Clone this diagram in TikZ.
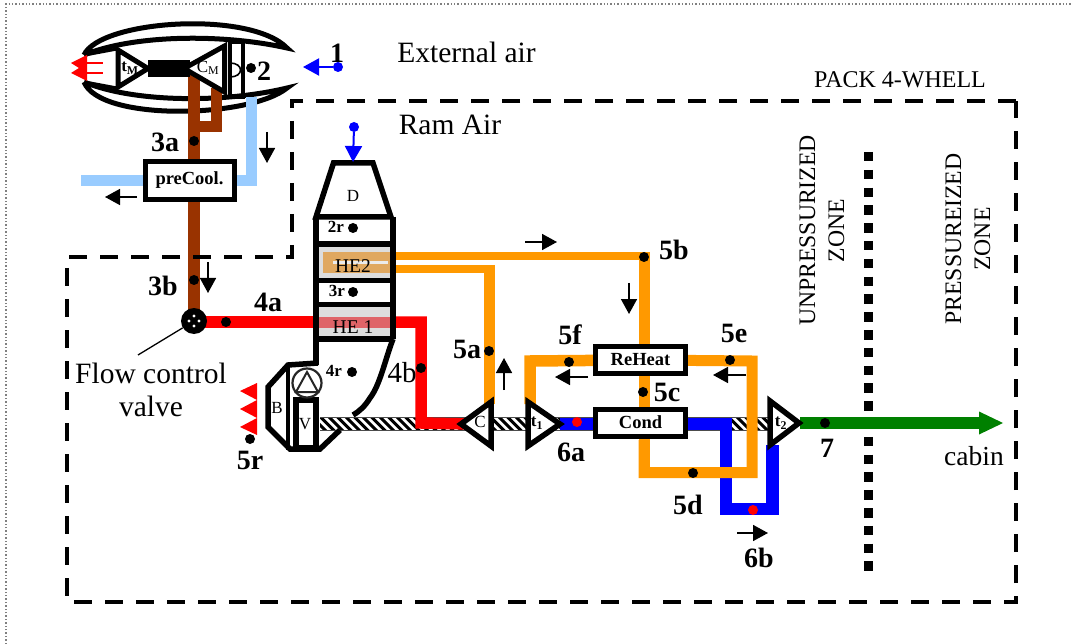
\documentclass[tikz,border=0pt]{standalone}
\usepackage{fontspec}
\setmainfont{Liberation Serif}
\usetikzlibrary{arrows.meta}

\definecolor{brownpipe}{HTML}{993300}
\definecolor{bluepipe}{HTML}{99CCFF}
\definecolor{orangepipe}{HTML}{FF9900}
\definecolor{hegray}{HTML}{DDDDDD}
\definecolor{hetan}{HTML}{E0A860}
\definecolor{hered}{HTML}{DF6468}
\definecolor{greenpipe}{HTML}{008000}

\tikzset{
    pipe/.style={line width=11.5pt},
    wall/.style={line width=5.5pt,miter limit=20},
    boxnode/.style={draw,line width=5pt,fill=white,minimum width=90pt,minimum height=27pt,inner sep=0pt,font=\fontsize{18.5}{18.5}\selectfont\bfseries},
    dotnode/.style={circle,fill=black,minimum size=10pt,inner sep=0pt},
    reddot/.style={circle,fill=red,minimum size=10pt,inner sep=0pt},
    stagelabel/.style={font=\fontsize{28}{28}\selectfont\bfseries,inner sep=0pt},
    bigtext/.style={font=\fontsize{29.5}{29.5}\selectfont,inner sep=0pt},
    zonetext/.style={font=\fontsize{23.7}{29}\selectfont,inner sep=0pt,align=center,rotate=90},
    smalltext/.style={font=\fontsize{17}{17}\selectfont,inner sep=0pt},
    rlabel/.style={font=\fontsize{17}{17}\selectfont\bfseries,inner sep=0pt},
    flowarrow/.style={line width=1.6pt,-{Triangle[length=15pt,width=16pt]}},
    blowarrow/.style={blue,line width=2pt,-{Triangle[length=16pt,width=17pt]}}
}

\begin{document}
\begin{tikzpicture}[x=1pt,y=-1pt]
    \useasboundingbox (0,0) rectangle (1073,644);
    \draw[gray,line width=1.4pt,dotted] (6,644) -- (6,4) -- (1073,4);

    \coordinate (valve) at (194,321);
    \coordinate (turbA) at (560,424);
    \coordinate (turbB) at (800,423);
    \coordinate (compC) at (470,424);
    \coordinate (condC) at (640.5,422.5);
    \coordinate (reheatC) at (640.5,360);
    \coordinate (precoolC) at (189.5,180.5);

    \draw[line width=5pt] (84,55) .. controls (100,20) and (250,10) .. (287,48) .. controls (225,34) and (135,34) .. (84,55);
    \draw[line width=5pt] (84,82) .. controls (100,122) and (250,118) .. (287,88) .. controls (225,103) and (135,103) .. (84,82);
    \draw[line width=3pt] (85,55) -- (117,49) (85,82) -- (117,88);

    \draw[brownpipe,line width=12pt] (194,70) -- (valve);
    \draw[brownpipe,line width=11pt,line join=miter] (216,88) -- (216,127) -- (194,127);
    \draw[bluepipe,line width=11pt] (251,97) -- (251,180.5) -- (81,180.5);

    \fill[black] (148,60) rectangle (190,77);
    \draw[line width=5pt,fill=white,miter limit=20] (118,50) -- (118,87) -- (148,68.5) -- cycle;
    \draw[line width=5pt,fill=white,miter limit=20] (224.5,46) -- (224.5,92) -- (184,68.5) -- cycle;
    \draw[line width=4pt] (229.5,42) -- (229.5,97) -- (243,97) -- (243,42) -- cycle;
    \draw[line width=1.6pt] (230,63) .. controls (244,63) and (244,77) .. (230,77);
    \fill[red] (87,55) -- (71,63) -- (79,68) -- (71,73) -- (87,81) -- cycle;
    \draw[red,line width=1.5pt] (87,63) -- (103,63) (87,73) -- (103,73);

    \draw[line width=4pt,dash pattern=on 18pt off 13pt] (1016,101) -- (292,101) -- (292,257) -- (67,257) -- (67,602) -- (1016,602) -- cycle;
    \draw[line width=9pt,dash pattern=on 9.5pt off 8.3pt] (868.5,152) -- (868.5,572);

    \fill[hegray] (319,247) rectangle (390,278);
    \fill[hegray] (319,307) rectangle (390,337);
    \fill[hetan] (323,252) rectangle (393,273);
    \fill[hegray!60!white] (333,261) rectangle (388,264);
    \fill[hered] (316,317) rectangle (393,328);

    \draw[orangepipe,line width=8pt] (393,256.5) -- (644,256.5);
    \draw[orangepipe,line width=11pt] (644,252.5) -- (644,472.5);
    \draw[orangepipe,line width=8pt] (393,269) -- (494.5,269);

    \begin{scope}
        \clip (320,417.5) rectangle (770,430.5);
        \foreach \hx in {312,320.5,...,775}
        {
            \draw[line width=3pt] (\hx,417) -- (\hx+14,431);
        }
    \end{scope}
    \draw[line width=0.9pt,black!70] (320,417) -- (770,417) (320,430.5) -- (770,430.5);

    \draw[red,pipe,line join=miter] (valve) ++(0,1) -- (316,322);
    \draw[red,pipe,line join=miter] (393,322) -- (421,322) -- (421,423) -- (compC);
    \draw[blue,line width=12.5pt] (turbA) -- (condC |- turbA);
    \draw[blue,line width=12.5pt] (condC |- turbA) -- (726,424) -- (726,509) -- (772.5,509) -- (772.5,445);
    \draw[orangepipe,line width=11pt] (489,265) -- (489,404);
    \draw[orangepipe,line width=11.5pt,line join=miter] (reheatC) -- (530,361) -- (530,404);
    \draw[orangepipe,line width=11pt,line join=miter] (644,440) -- (644,472.5) -- (752,472.5) -- (752,361) -- (reheatC);
    \draw[greenpipe,line width=12pt] (turbB) -- (985,423);
    \fill[greenpipe] (979,411.5) -- (1003,423) -- (979,434.5) -- cycle;

    \draw[wall,line join=miter] (333.5,163) -- (373,163) -- (391,217) -- (316,217) -- cycle;
    \draw[wall] (316,217) -- (316,365) (393,217) -- (393,339);
    \foreach \yy in {244,280.5,304.5,339}
    {
        \draw[wall] (316,\yy) -- (393,\yy);
    }
    \draw[wall,line join=round] (393,339) .. controls (385,360) and (380,385) .. (370,398) .. controls (365,406) and (360,411) .. (353,415);
    \draw[wall,line join=miter] (318,363) -- (288,365) -- (268,387) -- (268,427) -- (290,449) -- (320,449) -- (340,430);
    \draw[line width=4pt] (288,365) -- (288,450);
    \draw[wall,fill=white] (296,400) rectangle (316,448);
    \draw[line width=2.2pt,black!85,fill=white] (307,383) circle (14.5pt);
    \draw[line width=2pt,black!85] (307,372) -- (318,392) -- (296,392) -- cycle;
    \fill[red] (257,383) -- (240,391) -- (257,400) -- (240,409) -- (257,418) -- (240,427) -- (257,435) -- cycle;

    \draw[wall,fill=white,miter limit=20] (491,402) -- (491,446) -- (461,424) -- cycle;
    \draw[wall,fill=white,miter limit=20] (528,402) -- (528,446) -- (560,424) -- cycle;
    \draw[wall,fill=white,miter limit=20] (770,401) -- (770,445) -- (799,423) -- cycle;

    \fill[black] (valve) circle (13pt);
    \foreach \ang in {0,90,180,270}
    {
        \fill[white] (valve) ++(\ang:5) circle (1.6pt);
    }
    \node[circle,inner sep=0pt,minimum size=26pt] (valvenode) at (valve) {};
    \coordinate (valveleader) at (138,355);
    \draw[line width=1.3pt] (valvenode) -- (valveleader);

    \node[boxnode,minimum width=89pt,minimum height=38pt] (preCool) at (precoolC) {preCool.};
    \node[boxnode] (ReHeat) at (reheatC) {ReHeat};
    \node[boxnode] (Cond) at (condC) {Cond};

    \foreach \dotname/\dotx/\doty in {dtwo/251/68,dthreea/194/141,dthreeb/194/280,dfoura/226/322,dfourb/421/368,dfivea/489/351,dfiveb/644/257,dfivef/569/362,dfivee/730/360,dfivec/643/392,dfived/693/473,dfiver/250/439,dseven/825/423,dtwor/353/228,dthreer/353/292,dfourr/352/372}
    {
        \node[dotnode] (\dotname) at (\dotx,\doty) {};
    }
    \node[reddot] (dsixa) at (577,422) {};
    \node[reddot] (dsixb) at (753,510) {};

    \node[circle,fill=blue,minimum size=10pt,inner sep=0pt] (dairone) at (338,67) {};
    \coordinate (aironeend) at (303,67);
    \draw[blowarrow] (dairone) -- (aironeend);
    \node[circle,fill=blue,minimum size=10pt,inner sep=0pt] (dramair) at (354,127) {};
    \coordinate (ramend) at (353,162);
    \draw[blowarrow] (dramair) -- (ramend);

    \foreach \ax/\ay/\bx/\by in {267/132/267/163,137/197/105/197,208/262/208/293,525/242/557/242,629/283/629/314,504/390/504/358,588/377/555/377,746/375/713/375,737/533/768/533}
    {
        \draw[flowarrow] (\ax,\ay) -- (\bx,\by);
    }

    \foreach \txt/\tx/\ty in {1/337/53,2/264/71,3a/165/142,3b/163/286,4a/268/302,5a/467/349,5b/674/250,5c/667/392,5d/688/505,5e/734/333,5f/570/335,5r/250/460,6a/571/452,6b/759/558,7/827/448}
    {
        \node[stagelabel] (lab\txt) at (\tx,\ty) {\txt};
    }
    \node[stagelabel,font=\fontsize{29}{29}\selectfont] (lab4b) at (402,373) {4b};

    \node[bigtext] (extair) at (466.5,52) {External air};
    \node[bigtext] (ramair) at (450,125) {Ram Air};
    \node[bigtext,align=center] (flowtext) at (151,390) {Flow control\\[4pt]valve};
    \node[bigtext,font=\fontsize{27.5}{27.5}\selectfont] (cabin) at (974,456) {cabin};
    \node[font=\fontsize{24}{24}\selectfont,inner sep=0pt] (packname) at (900,80) {PACK 4-WHELL};
    \node[zonetext] (unpress) at (822,230.5) {UNPRESSURIZED\\ZONE};
    \node[zonetext] (press) at (968,239) {PRESSUREIZED\\ZONE};

    \node[smalltext,font=\fontsize{19.5}{19.5}\selectfont] (heone) at (353,327) {HE 1};
    \node[smalltext,font=\fontsize{19.5}{19.5}\selectfont] (hetwo) at (353,266) {HE2};
    \node[smalltext] (dlab) at (353,196) {D};
    \node[rlabel] (tworlab) at (336,227) {2r};
    \node[rlabel] (threerlab) at (337,291) {3r};
    \node[rlabel] (fourrlab) at (334,371) {4r};
    \node[smalltext] (blab) at (277,408) {B};
    \node[smalltext] (vlab) at (305,424) {V};
    \node[smalltext] (clab) at (480,422) {C};
    \node[rlabel] (tone) at (537,423) {t\textsubscript{1}};
    \node[rlabel] (ttwo) at (781,423) {t\textsubscript{2}};
    \node[rlabel] (tm) at (130,68) {t\textsubscript{M}};
    \node[smalltext] (cm) at (208,68) {C\textsubscript{M}};
\end{tikzpicture}
\end{document}
